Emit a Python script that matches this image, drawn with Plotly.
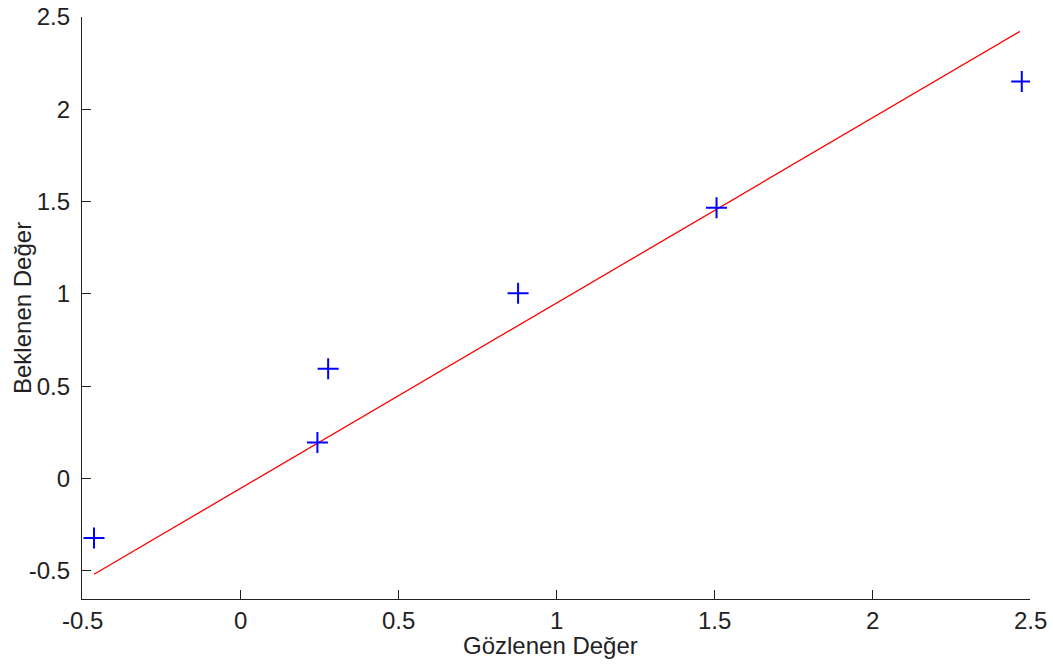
import plotly.graph_objects as go

observed = [-0.462, 0.245, 0.279, 0.880, 1.508, 2.474]
expected = [-0.323, 0.195, 0.595, 1.003, 1.466, 2.150]

# Reference line endpoints
line_x = [-0.462, 2.468]
line_y = [-0.519, 2.422]

x_ticks = [-0.5, 0, 0.5, 1, 1.5, 2, 2.5]
x_labels = ["-0.5", "0", "0.5", "1", "1.5", "2", "2.5"]
y_ticks = [-0.5, 0, 0.5, 1, 1.5, 2, 2.5]
y_labels = ["-0.5", "0", "0.5", "1", "1.5", "2", "2.5"]

x_title = "Gözlenen Değer"
y_title = "Beklenen Değer"

font_family = "Liberation Sans, Arial, sans-serif"
text_color = "#222222"

fig = go.Figure()
fig.add_trace(go.Scatter(
    x=line_x, y=line_y, mode="lines",
    line=dict(color="#ff0000", width=1.3),
    showlegend=False, hoverinfo="skip",
))
fig.add_trace(go.Scatter(
    x=observed, y=expected, mode="markers",
    marker=dict(symbol="cross-thin", size=15, line=dict(color="#0000ff", width=2)),
    showlegend=False,
))

axis_common = dict(
    showgrid=False, zeroline=False, showline=True, linecolor="#222222", linewidth=1.3,
    ticks="inside", ticklen=9, tickwidth=1.3, tickcolor="#222222",
    mirror=False, automargin=False,
    tickfont=dict(family=font_family, size=24, color=text_color),
)

# x tick labels placed through the x axis scale (data coordinates)
x_tick_annotations = [
    dict(text=lab, xref="x", yref="paper", x=val, y=-0.0378,
         xanchor="center", yanchor="middle", showarrow=False,
         font=dict(family=font_family, size=24, color=text_color))
    for val, lab in zip(x_ticks, x_labels)
]

fig.update_layout(
    width=1053, height=664,
    margin=dict(l=82, r=23, t=17, b=65),
    paper_bgcolor="white", plot_bgcolor="white",
    font=dict(family=font_family, size=24, color=text_color),
    xaxis=dict(range=[-0.5, 2.5], tickvals=x_ticks, showticklabels=False,
               **axis_common),
    yaxis=dict(range=[-0.653, 2.5], tickvals=y_ticks, ticktext=y_labels,
               ticklabelstandoff=6, **axis_common),
    annotations=x_tick_annotations + [
        dict(text=x_title, xref="paper", yref="paper", x=0.4937, y=-0.0800,
             xanchor="center", yanchor="middle", showarrow=False,
             font=dict(family=font_family, size=24, color=text_color)),
        dict(text=y_title, xref="paper", yref="paper", x=-0.0633, y=0.5,
             xanchor="center", yanchor="middle", textangle=-90, showarrow=False,
             font=dict(family=font_family, size=24, color=text_color)),
    ],
)

# remove the browser's default 8px page margin so the figure fills the window
fig.write_html("out.html", config={"displayModeBar": False},
               post_script="document.body.style.margin='0';")
